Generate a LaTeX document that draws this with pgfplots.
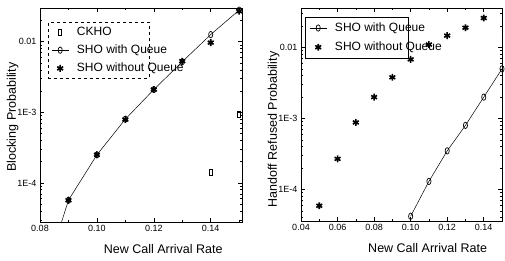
\documentclass[border=0pt]{standalone}
\usepackage{fontspec}
\setmainfont{Liberation Sans}
\usepackage{pgfplots}
\pgfplotsset{compat=1.18}
\pgfplotsset{
  myax/.style={
    scale only axis, axis line style={line width=0.8pt},
    tick align=inside, major tick length=4pt, minor tick length=2pt,
    tick style={black, line width=0.6pt},
    ticklabel style={font=\fontsize{9}{10}\selectfont},
    label style={font=\fontsize{12.5}{14}\selectfont},
    legend cell align=left,
    minor ytick={2e-5,3e-5,4e-5,5e-5,6e-5,7e-5,8e-5,9e-5,2e-4,3e-4,4e-4,5e-4,6e-4,7e-4,8e-4,9e-4,2e-3,3e-3,4e-3,5e-3,6e-3,7e-3,8e-3,9e-3,2e-2,3e-2},
    ytick={1e-4,1e-3,1e-2}, yticklabels={1E-4,1E-3,0.01},
  },
}
\tikzset{
  circ/.style={black, mark=o, mark size=3.2pt, mark options={xscale=0.65, line width=0.7pt}},
  star/.style={black, mark=asterisk, mark size=3.4pt, mark options={line width=1.6pt}},
  sq/.style={black, mark=square, mark size=2.8pt, mark options={xscale=0.6, line width=0.7pt}},
}
\newcommand{\legtxt}[1]{\hspace*{6pt}\makebox[67pt][l]{#1}}
\begin{document}
\begin{tikzpicture}
\path[use as bounding box] (0pt,0pt) rectangle (505pt,261pt);
\begin{axis}[myax, ymode=log, at={(40pt,39pt)}, anchor=south west, width=202pt, height=214pt,
  xmin=0.08, xmax=0.151, ymin=2.8e-5, ymax=0.030,
  xtick={0.08,0.10,0.12,0.14}, xticklabels={0.08,0.10,0.12,0.14},
  minor xtick={0.09,0.11,0.13,0.15},
  xlabel={New Call Arrival Rate}, ylabel={Blocking Probability},
  xlabel style={at={(axis description cs:0.61,0)}, anchor=north, yshift=-19pt},
  ylabel style={at={(axis description cs:0,0.49)}, anchor=south, yshift=18pt},
  legend style={at={(axis description cs:0.04,0.935)}, anchor=north west, draw=black, dashed, line width=0.6pt,
    font=\fontsize{12}{13}\selectfont, row sep=4pt, inner sep=3pt},
]
\addlegendimage{sq, only marks, solid}
\addlegendentry{\legtxt{CKHO}}
\addlegendimage{circ, solid, line width=0.5pt}
\addlegendentry{\legtxt{SHO with Queue}}
\addlegendimage{star, only marks, solid}
\addlegendentry{\legtxt{SHO without Queue}}
\addplot[black, line width=0.5pt, no marks, forget plot] coordinates {(0.08,3e-6)(0.09,5.7e-5)(0.10,2.5e-4)(0.11,8.0e-4)(0.12,2.1e-3)(0.13,5.2e-3)(0.14,1.26e-2)(0.15,2.8e-2)};
\addplot[circ, only marks, forget plot] coordinates {(0.09,5.7e-5)(0.10,2.5e-4)(0.11,8.0e-4)(0.12,2.1e-3)(0.13,5.2e-3)(0.14,1.26e-2)(0.15,2.8e-2)};
\addplot[star, only marks, forget plot] coordinates {(0.09,5.7e-5)(0.10,2.5e-4)(0.11,7.9e-4)(0.12,2.1e-3)(0.13,5.3e-3)(0.14,9.7e-3)(0.15,2.7e-2)};
\addplot[sq, only marks, forget plot] coordinates {(0.14,1.4e-4)(0.15,9.4e-4)};
\end{axis}
\begin{axis}[myax, ymode=log, at={(301pt,40pt)}, anchor=south west, width=201pt, height=213pt,
  xmin=0.04, xmax=0.15, ymin=3.6e-5, ymax=0.036,
  xtick={0.04,0.06,0.08,0.10,0.12,0.14}, xticklabels={0.04,0.06,0.08,0.10,0.12,0.14},
  minor xtick={0.05,0.07,0.09,0.11,0.13,0.15},
  xlabel={New Call Arrival Rate}, ylabel={Handoff Refused Probability},
  xlabel style={at={(axis description cs:0.63,0)}, anchor=north, yshift=-19pt},
  ylabel style={at={(axis description cs:0,0.43)}, anchor=south, yshift=18pt},
  legend style={at={(axis description cs:0.02,0.96)}, anchor=north west, draw=black, line width=0.8pt,
    font=\fontsize{12}{13}\selectfont, row sep=5pt, inner sep=4pt},
]
\addlegendimage{circ, solid, line width=0.5pt}
\addlegendentry{\legtxt{SHO with Queue}}
\addlegendimage{star, only marks, solid}
\addlegendentry{\legtxt{SHO without Queue}}
\addplot[black, line width=0.5pt, no marks, forget plot] coordinates {(0.10,4.2e-5)(0.11,1.3e-4)(0.12,3.5e-4)(0.13,8.0e-4)(0.14,2.0e-3)(0.15,5.0e-3)};
\addplot[circ, only marks, forget plot] coordinates {(0.10,4.2e-5)(0.11,1.3e-4)(0.12,3.5e-4)(0.13,8.0e-4)(0.14,2.0e-3)(0.15,5.0e-3)};
\addplot[star, only marks, forget plot] coordinates {(0.05,5.9e-5)(0.06,2.7e-4)(0.07,8.8e-4)(0.08,2.0e-3)(0.09,3.8e-3)(0.10,6.8e-3)(0.11,1.1e-2)(0.12,1.47e-2)(0.13,1.9e-2)(0.14,2.6e-2)};
\end{axis}
\end{tikzpicture}
\end{document}
